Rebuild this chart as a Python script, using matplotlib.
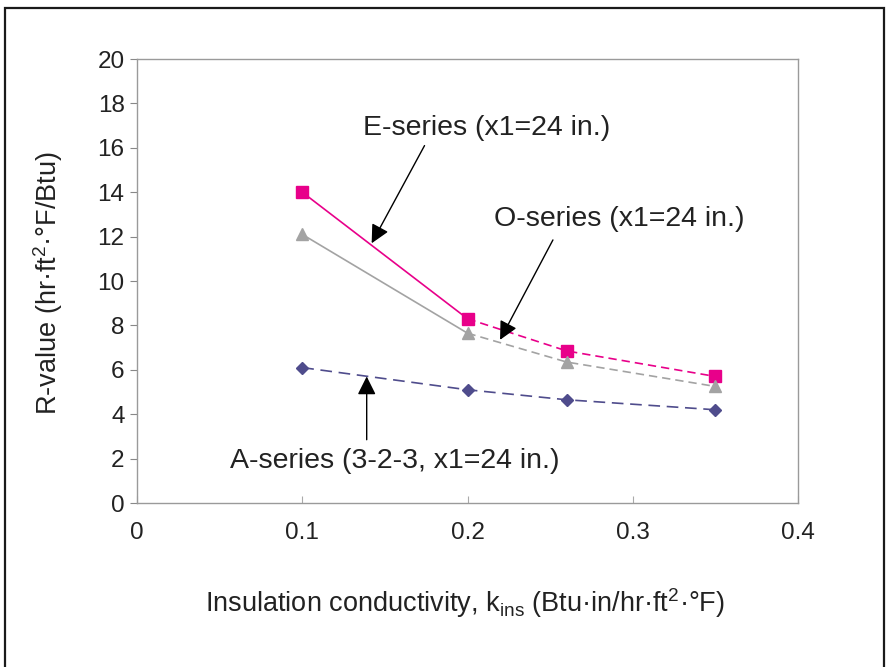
import matplotlib
matplotlib.use("Agg")
import matplotlib.pyplot as plt
from matplotlib.patches import Rectangle

plt.rcParams['font.family'] = ['Liberation Sans', 'DejaVu Sans']
plt.rcParams['mathtext.fontset'] = 'custom'
plt.rcParams['mathtext.rm'] = 'Liberation Sans'
plt.rcParams['mathtext.it'] = 'Liberation Sans'

k = [0.1, 0.2, 0.26, 0.35]
e_series = [14.0, 8.3, 6.85, 5.7]
o_series = [12.1, 7.65, 6.35, 5.25]
a_series = [6.1, 5.1, 4.65, 4.2]

xticks = [0, 0.1, 0.2, 0.3, 0.4]
xticklabels = ['0', '0.1', '0.2', '0.3', '0.4']
yticks = list(range(0, 21, 2))

fig = plt.figure(figsize=(8.88, 6.67), dpi=100)
fig.patches.append(Rectangle((5/888, -0.02), 879/888, 1.02 - 8/667,
                             transform=fig.transFigure, fill=False,
                             edgecolor='#1a1a1a', linewidth=1.6))
ax = fig.add_axes([137/888, 1 - 503/667, 661/888, 444/667])

E_COL = '#e8008a'
O_COL = '#a3a3a3'
A_COL = '#4f4c8c'

ax.plot(k[:2], e_series[:2], color=E_COL, lw=1.2, ls='-')
ax.plot(k[1:], e_series[1:], color=E_COL, lw=1.2, ls=(0, (5, 3)))
ax.plot(k, e_series, ls='none', marker='s', ms=8.5, color=E_COL)

ax.plot(k[:2], o_series[:2], color=O_COL, lw=1.2, ls='-')
ax.plot(k[1:], o_series[1:], color=O_COL, lw=1.2, ls=(0, (5, 3)))
ax.plot(k, o_series, ls='none', marker='^', ms=8, color=O_COL)

ax.plot(k, a_series, color=A_COL, lw=1.2, ls=(0, (7, 4)))
ax.plot(k, a_series, ls='none', marker='D', ms=6, color=A_COL)

ax.set_xlim(0, 0.4)
ax.set_ylim(0, 20)
ax.set_xticks(xticks)
ax.set_xticklabels(xticklabels)
ax.set_yticks(yticks)
ax.tick_params(axis='y', direction='out', length=5, color='#888888', labelsize=17.5,
               pad=4, labelcolor='#222222')
ax.tick_params(axis='x', direction='in', length=5, color='#aaaaaa', labelsize=17.5,
               pad=14, labelcolor='#222222')
for s in ax.spines.values():
    s.set_color('#9a9a9a')
    s.set_linewidth(1.0)
ax.spines['bottom'].set_linestyle((0, (2, 1)))
ax.spines['top'].set_linestyle((0, (2, 1)))

fig.text(48/888, 1 - 283/667, 'R-value (hr·ft$^2$·°F/Btu)', fontsize=19.5,
         rotation=90, ha='center', va='center', color='#222222')
fig.text(465/888, 1 - 603/667, 'Insulation conductivity, k$_{ins}$ (Btu·in/hr·ft$^2$·°F)',
         fontsize=19.5, ha='center', va='center', color='#222222')

ap = dict(arrowstyle='-|>', mutation_scale=28, color='black', lw=1.0,
          shrinkA=0, shrinkB=0)
ax.text(0.2118, 16.9, 'E-series (x1=24 in.)', fontsize=20.5, ha='center', va='center',
        color='#222222')
ax.annotate('', xy=(0.142, 11.7), xytext=(0.174, 16.1), arrowprops=ap)

ax.text(0.2917, 12.8, 'O-series (x1=24 in.)', fontsize=20.5, ha='center', va='center',
        color='#222222')
ax.annotate('', xy=(0.2197, 7.35), xytext=(0.2517, 11.85), arrowprops=ap)

ax.text(0.1558, 1.9, 'A-series (3-2-3, x1=24 in.)', fontsize=20.5, ha='center', va='center',
        color='#222222')
ax.annotate('', xy=(0.139, 5.7), xytext=(0.139, 2.85), arrowprops=ap)

fig.savefig('out.png', dpi=100)
